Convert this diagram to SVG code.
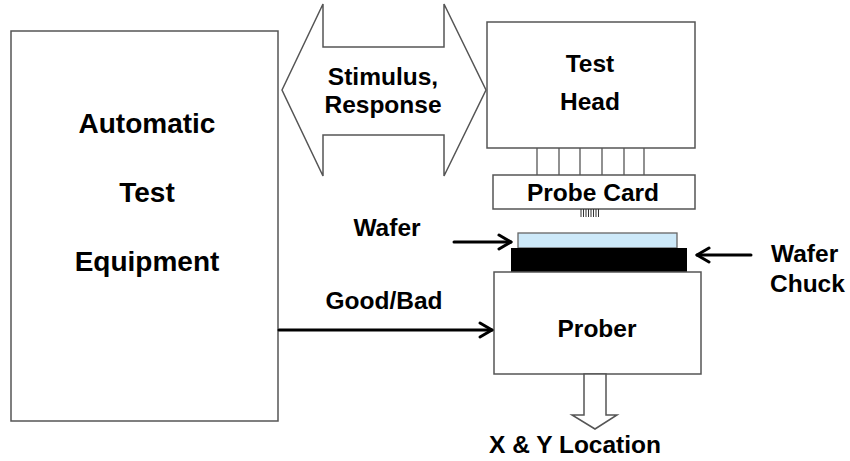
<svg xmlns="http://www.w3.org/2000/svg" width="850" height="461" viewBox="0 0 850 461">
<style>
.box{fill:#fff;stroke:#555;stroke-width:1.5}
.t{font-family:"Liberation Sans",Arial,sans-serif;font-weight:bold;font-size:24.5px;fill:#000}
.big{font-size:28px}
.mid{text-anchor:middle}
.arr{fill:none;stroke:#000;stroke-width:3;stroke-linecap:round;stroke-linejoin:round}
.pin{stroke:#555;stroke-width:1.3}
</style>
<rect width="850" height="461" fill="#fff"/>
<g id="ate">
<rect class="box" x="11" y="31" width="267" height="390"/>
<text class="t big mid" x="147" y="133">Automatic</text>
<text class="t big mid" x="147" y="202">Test</text>
<text class="t big mid" x="147" y="271">Equipment</text>
</g>
<g id="stimulus">
<polygon class="box" points="282,90 323,4 323,47 444,47 444,4 486,90 444,176 444,135 323,135 323,176"/>
<text class="t mid" x="383" y="85">Stimulus,</text>
<text class="t mid" x="383" y="113">Response</text>
</g>
<g id="testhead">
<rect class="box" x="487" y="22" width="208" height="126"/>
<text class="t mid" x="590" y="72">Test</text>
<text class="t mid" x="590" y="110">Head</text>
</g>
<g id="pins">
<line class="pin" x1="537" y1="148" x2="537" y2="175"/>
<line class="pin" x1="559" y1="148" x2="559" y2="175"/>
<line class="pin" x1="580" y1="148" x2="580" y2="175"/>
<line class="pin" x1="602" y1="148" x2="602" y2="175"/>
<line class="pin" x1="624" y1="148" x2="624" y2="175"/>
<line class="pin" x1="644" y1="148" x2="644" y2="175"/>
</g>
<g id="probecard">
<rect class="box" x="493" y="175" width="202" height="34"/>
<text class="t mid" x="593" y="201">Probe Card</text>
<g stroke="#333" stroke-width="1">
<line x1="581" y1="209" x2="581" y2="217"/>
<line x1="583.5" y1="209" x2="583.5" y2="217"/>
<line x1="586" y1="209" x2="586" y2="217"/>
<line x1="588.5" y1="209" x2="588.5" y2="217"/>
<line x1="591" y1="209" x2="591" y2="217"/>
<line x1="593.5" y1="209" x2="593.5" y2="217"/>
<line x1="596" y1="209" x2="596" y2="217"/>
<line x1="598.5" y1="209" x2="598.5" y2="217"/>
</g>
</g>
<g id="wafer">
<rect x="518" y="233" width="159" height="15" fill="#cde9f9" stroke="#666" stroke-width="1.3"/>
<text class="t mid" x="387" y="236">Wafer</text>
</g>
<g id="chuck">
<rect x="511" y="248" width="176" height="24" fill="#000"/>
<text class="t" x="771" y="262">Wafer</text>
<text class="t" x="770" y="292">Chuck</text>
</g>
<g id="prober">
<rect class="box" x="494" y="272" width="207" height="102"/>
<text class="t mid" x="597" y="337">Prober</text>
</g>
<g id="xy">
<polygon class="box" points="584,374 606,374 606,415 617,415 595,429 572,415 584,415"/>
<text class="t mid" x="575" y="453">X &amp; Y Location</text>
</g>
<g id="connectors">
<line class="arr" x1="454" y1="242" x2="511" y2="242"/>
<polyline class="arr" points="499,235 511,242 499,249"/>
<line class="arr" x1="697" y1="255" x2="751" y2="255"/>
<polyline class="arr" points="709,248 697,255 709,262"/>
<line class="arr" x1="279" y1="330" x2="492" y2="330"/>
<polyline class="arr" points="480,323 492,330 480,337"/>
<text class="t mid" x="384" y="309">Good/Bad</text>
</g>
</svg>
